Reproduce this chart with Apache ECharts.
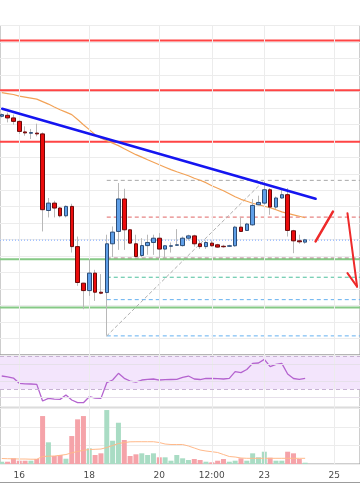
<!DOCTYPE html>
<html><head><meta charset="utf-8">
<script src="https://cdn.jsdelivr.net/npm/echarts@6/dist/echarts.min.js"></script>
<style>html,body{margin:0;padding:0;background:#fff}#c{width:360px;height:504px}</style>
</head><body><div id="c"></div>
<script>
// 4h candles, index k = 0 at day "16" 00:00; first candle k = -3
const kStart = -3;
// [open, close, low, high]
const candles = [
[644.9,645.9,644.2,646.6],[645.5,643.9,641.2,647.1],[643.9,641.8,639.8,645.9],[641.8,635.7,634.2,642.4],
[635.4,634.8,633.1,638.8],[634.6,635.0,631.1,637.2],[634.7,634.2,632.7,640.4],[634.2,588.2,575.0,635.1],
[587.7,592.2,583.5,595.3],[592.2,589.2,583.5,593.6],[589.2,584.5,583.5,589.8],[584.5,590.2,583.5,590.8],
[590.2,565.8,562.2,591.8],[565.8,544.0,542.0,571.9],[543.6,539.1,527.8,543.8],[539.1,549.7,535.9,558.2],
[549.7,538.1,532.8,551.7],[538.1,537.5,536.9,549.1],[537.9,567.5,511.7,573.0],[567.5,574.6,559.4,578.0],
[575.0,594.7,563.8,604.4],[594.7,576.0,563.8,600.9],[576.0,567.9,567.5,576.3],[567.5,559.8,559.4,573.0],
[560.4,566.4,559.4,570.9],[566.4,568.3,560.8,573.0],[568.3,570.9,560.8,573.0],[570.9,564.3,558.8,574.0],
[564.3,566.3,558.8,566.5],[566.0,566.3,562.2,568.3],[566.6,566.9,566.3,576.4],[566.4,570.9,565.8,571.9],
[570.9,572.3,569.5,573.0],[572.3,567.5,565.8,573.0],[567.5,565.8,564.4,569.5],[565.8,568.3,564.4,569.5],
[567.9,566.3,565.8,569.5],[566.9,565.5,565.1,567.5],[566.0,565.7,565.1,566.9],[566.0,566.3,565.7,566.9],
[566.3,577.6,565.7,578.4],[577.6,575.0,574.8,583.5],[575.6,579.5,575.4,580.2],[579.0,590.8,578.4,594.7],
[591.2,592.6,590.9,596.7],[592.2,600.3,591.2,605.3],[600.3,589.8,585.1,601.3],[589.8,595.3,588.6,596.2],
[595.3,597.3,594.8,600.3],[597.3,575.6,571.9,601.3],[575.4,569.3,561.8,576.0],[569.3,568.7,567.5,573.0],
[568.5,569.9,567.5,570.5]
];
const maValues = [659.3,658.7,658.1,657.1,656.5,655.9,655.3,653.8,652.3,650.5,648.9,647.4,645.9,642.9,639.8,636.8,
633.7,631.6,630.1,628.6,627.1,625.2,623.4,621.6,620.1,618.5,617.0,615.5,614.0,612.5,611.2,610.0,608.8,607.3,606.1,
604.6,602.7,601.2,599.7,597.9,596.1,594.5,593.3,592.1,591.2,590.3,589.4,588.2,586.9,586.0,585.1,584.2,583.3];
const rsiValues = [46.0,45.0,43.6,37.2,36.6,36.4,36.0,16.0,19.2,18.4,18.0,23.2,17.2,14.0,14.0,21.2,19.6,19.2,
38.0,41.2,49.2,43.2,40.0,38.8,41.2,42.0,42.4,41.2,41.6,41.8,42.0,44.4,46.0,42.4,41.8,43.2,43.0,42.8,42.4,43.2,
51.2,50.0,53.8,61.2,61.6,66.0,57.2,60.0,61.2,48.4,43.0,42.0,43.2];
const volumes = [124,124,308,178,178,178,270,2594,1173,432,486,286,1513,2416,2594,849,486,578,
2919,1259,2232,1297,432,524,578,486,578,362,362,178,486,308,216,270,216,124,92,178,270,124,
178,308,178,578,362,665,341,178,178,665,578,270,70];
const volMA = [297,286,281,270,270,259,259,405,422,432,470,513,605,676,740,784,795,811,
892,1000,1108,1162,1200,1205,1205,1205,1205,1162,1081,1054,1054,1054,973,865,757,703,665,622,513,405,
378,324,308,308,308,308,308,308,308,308,308,308,308];
const tickPositions = [0, 12, 24, 33, 42, 54];
const tickLabels = ['16', '18', '20', '12:00', '23', '25'];
const resistanceLevels = [690.9, 660.7, 629.5];
const supportLevels = [558.1, 528.9];
const fibLevels = [606.0, 583.7, 558.8, 547.2, 533.6, 511.6];
const fibStartK = 15;
const lastPrice = 569.7;
const trendline = [[-2.925, 649.5], [50.79, 594.8]];
const fibDiagonal = [[15, 511.6], [42, 606.0]];
const upStroke = [[50.79, 568.9], [53.76, 587.1]];
const downArrow = [[56.25, 586.1], [57.9, 541.5]];
const downArrowHead = [[56.25, 549.7], [57.9, 541.5]];
const rsiBand = [30, 70];
const rsiGridLevels = [20, 40, 60];

// ---- styles ----
const X0 = -3.3, X1 = 58.4;
const GL = -2.22, GW = 364.96;
const gridCol = '#ececec';
const fibColors = ['#a8a8a8', '#e06666', '#a04a6a', '#4cbf9c', '#64b0f0', '#64b0f0'];

const ks = candles.map((_, i) => i + kStart);
const up = candles.map(c => c[1] >= c[0]);

const chart = echarts.init(document.getElementById('c'), null, {renderer: 'canvas'});

function hLine(x0, x1, v, color, width, type, z) {
  return { type: 'line', xAxisIndex: 0, yAxisIndex: 0, data: [[x0, v], [x1, v]], symbol: 'none',
    lineStyle: { color, width, type }, silent: true, z: z || 3, animation: false };
}
function seg(pts, color, width, type, z) {
  return { type: 'line', xAxisIndex: 0, yAxisIndex: 0, data: pts, symbol: 'none',
    lineStyle: { color, width, type, cap: 'round' }, silent: true, z: z || 6, animation: false };
}
function vGrid(ax) {
  return { type: 'line', xAxisIndex: ax, yAxisIndex: ax, data: [], symbol: 'none', silent: true, z: 1,
    markLine: { silent: true, symbol: 'none', label: { show: false }, animation: false,
      lineStyle: { color: gridCol, width: 1, type: 'solid' },
      data: tickPositions.map(p => ({ xAxis: p })) } };
}

const series = [];
series.push(vGrid(0), vGrid(1), vGrid(2));
// fib levels
fibLevels.forEach((lv, i) => series.push(hLine(fibStartK, X1, lv, fibColors[i], 1, [4, 3], 3)));
series.push(seg(fibDiagonal, '#b0b0b0', 1, [3, 3], 3));
series.push(hLine(X0, X1, lastPrice, '#7aa6ff', 1, [1, 2], 3));
resistanceLevels.forEach(lv => series.push(hLine(X0, X1, lv, '#ff4545', 2, 'solid', 4)));
supportLevels.forEach(lv => series.push(hLine(X0, X1, lv, '#86c986', 2, 'solid', 4)));
// MA
series.push({ type: 'line', xAxisIndex: 0, yAxisIndex: 0, data: ks.map((k, i) => [k, maValues[i]]),
  symbol: 'none', lineStyle: { color: '#f2a257', width: 1.2 }, silent: true, z: 4, animation: false });
// wicks
series.push({ type: 'candlestick', xAxisIndex: 0, yAxisIndex: 0, barWidth: 1, z: 5,
  dimensions: ['k', 'open', 'close', 'low', 'high'], encode: { x: 'k', y: ['open', 'close', 'low', 'high'] },
  data: candles.map((c, i) => [ks[i], c[0], c[1], c[2], c[3]]),
  itemStyle: { color: '#b8b8b8', color0: '#b8b8b8', borderColor: '#b8b8b8', borderColor0: '#b8b8b8', borderWidth: 1 },
  silent: true, animation: false });
// bodies
series.push({ type: 'candlestick', xAxisIndex: 0, yAxisIndex: 0, barWidth: 4, z: 6,
  dimensions: ['k', 'open', 'close', 'low', 'high'], encode: { x: 'k', y: ['open', 'close', 'low', 'high'] },
  data: candles.map((c, i) => [ks[i], c[0], c[1], Math.min(c[0], c[1]), Math.max(c[0], c[1])]),
  itemStyle: { color: '#5f9fe8', color0: '#ec0c0c', borderColor: '#2d4e78', borderColor0: '#6a0a0a', borderWidth: 1 },
  silent: true, animation: false });
// trendline + annotations
series.push(seg(trendline, '#1515f0', 2.5, 'solid', 7));
series.push(seg(upStroke, '#ee2a2a', 2.5, 'solid', 7));
series.push(seg(downArrow, '#ee2a2a', 2, 'solid', 7));
series.push(seg(downArrowHead, '#ee2a2a', 2, 'solid', 7));
// RSI
series.push({ type: 'line', xAxisIndex: 1, yAxisIndex: 1, data: ks.map((k, i) => [k, rsiValues[i]]),
  symbol: 'none', lineStyle: { color: '#b463cf', width: 1.3 }, z: 4, silent: true, animation: false,
  markArea: { silent: true, itemStyle: { color: '#f3e5fc' }, data: [[{ yAxis: rsiBand[0] }, { yAxis: rsiBand[1] }]] },
  markLine: { silent: true, symbol: 'none', label: { show: false }, animation: false,
    data: rsiGridLevels.map(v => ({ yAxis: v, lineStyle: { color: '#e6e0ea', width: 1, type: 'solid' } }))
      .concat(rsiBand.map(v => ({ yAxis: v, lineStyle: { color: '#c6b2d2', width: 1, type: [4, 3] } }))) } });
// Volume
series.push({ type: 'bar', xAxisIndex: 2, yAxisIndex: 2, barWidth: 5, z: 3, silent: true, animation: false,
  data: ks.map((k, i) => ({ value: [k, volumes[i]], itemStyle: { color: up[i] ? '#a9dcc4' : '#f5a3a9' } })) });
series.push({ type: 'line', xAxisIndex: 2, yAxisIndex: 2, data: ks.map((k, i) => [k, volMA[i]]),
  symbol: 'none', lineStyle: { color: '#ffb98a', width: 1 }, z: 4, silent: true, animation: false });

const xBase = { type: 'value', min: X0, max: X1, splitLine: { show: false }, axisLine: { show: false },
  axisTick: { show: false }, axisLabel: { show: false } };
const yBase = { type: 'value', axisLine: { show: false }, axisTick: { show: false }, axisLabel: { show: false } };
const gridBase = { left: GL, width: GW, show: true, borderColor: '#9c9c9c', borderWidth: 1, backgroundColor: 'transparent' };

chart.setOption({
  animation: false,
  backgroundColor: '#ffffff',
  grid: [
    Object.assign({ top: 25.5, height: 329.5 }, gridBase),
    Object.assign({ top: 355, height: 51.7 }, gridBase),
    Object.assign({ top: 406.7, height: 57.3 }, gridBase)
  ],
  xAxis: [
    Object.assign({ gridIndex: 0 }, xBase),
    Object.assign({ gridIndex: 1 }, xBase),
    Object.assign({ gridIndex: 2 }, xBase, {
      axisLabel: { show: true, customValues: tickPositions, color: '#4a4a4a', fontSize: 9, margin: 7,
        fontFamily: 'DejaVu Sans',
        formatter: v => { const i = tickPositions.indexOf(v); return i >= 0 ? tickLabels[i] : ''; } } })
  ],
  yAxis: [
    Object.assign({ gridIndex: 0, min: 500, max: 700, interval: 10, splitLine: { lineStyle: { color: gridCol } } }, yBase),
    Object.assign({ gridIndex: 1, min: 9.2, max: 71.2, splitLine: { show: false } }, yBase),
    Object.assign({ gridIndex: 2, min: 0, max: 3100, interval: 1000, splitLine: { lineStyle: { color: gridCol } } }, yBase)
  ],
  graphic: [{ type: 'line', silent: true, shape: { x1: 0, y1: 482.5, x2: 360, y2: 482.5 },
    style: { stroke: '#9c9c9c', lineWidth: 1 } }],
  series
});
</script></body></html>
